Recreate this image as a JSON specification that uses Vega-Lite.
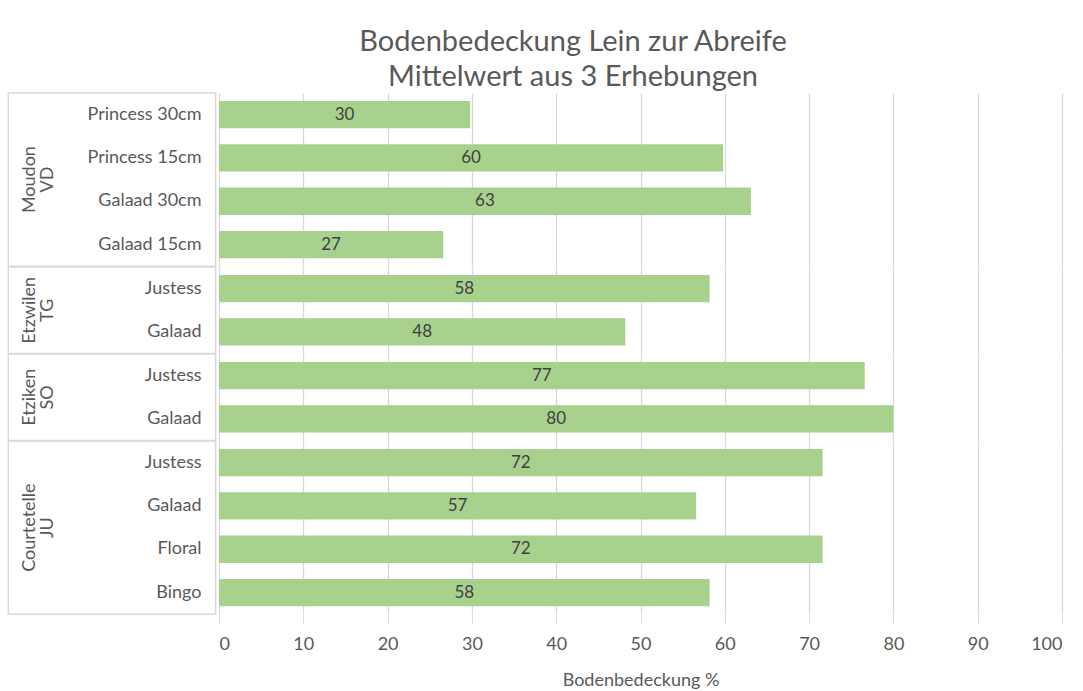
{
  "$schema": "https://vega.github.io/schema/vega-lite/v6.json",
  "padding": {"left": 7, "top": 28, "right": 15, "bottom": 5},
  "background": "white",
  "title": {
    "text": ["Bodenbedeckung  Lein zur Abreife", "Mittelwert aus 3 Erhebungen"],
    "fontSize": 29, "font": "Lato", "fontWeight": "normal", "color": "#595959",
    "lineHeight": 35, "anchor": "middle", "offset": 0, "dx": 38
  },
  "data": {"values": [
    {"loc": "Moudon VD", "sorte": "Princess 30cm", "v": 29.8},
    {"loc": "Moudon VD", "sorte": "Princess 15cm", "v": 59.8},
    {"loc": "Moudon VD", "sorte": "Galaad 30cm", "v": 63.1},
    {"loc": "Moudon VD", "sorte": "Galaad 15cm", "v": 26.6},
    {"loc": "Etzwilen TG", "sorte": "Justess", "v": 58.2},
    {"loc": "Etzwilen TG", "sorte": "Galaad", "v": 48.2},
    {"loc": "Etziken SO", "sorte": "Justess", "v": 76.6},
    {"loc": "Etziken SO", "sorte": "Galaad", "v": 80.0},
    {"loc": "Courtetelle JU", "sorte": "Justess", "v": 71.6},
    {"loc": "Courtetelle JU", "sorte": "Galaad", "v": 56.6},
    {"loc": "Courtetelle JU", "sorte": "Floral", "v": 71.6},
    {"loc": "Courtetelle JU", "sorte": "Bingo", "v": 58.2}
  ]},
  "transform": [{"calculate": "datum.v / 2", "as": "mid"}],
  "facet": {
    "row": {
      "field": "loc", "type": "nominal",
      "sort": ["Moudon VD", "Etzwilen TG", "Etziken SO", "Courtetelle JU"],
      "title": null,
      "header": {
        "labelAngle": -90, "labelOrient": "left",
        "labelExpr": "split(datum.value, ' ')",
        "labelFontSize": 18, "labelColor": "#595959", "labelFont": "Lato",
        "labelPadding": 153, "labelAlign": "center", "labelBaseline": "middle",
        "labelLineHeight": 18
      }
    }
  },
  "spacing": 0,
  "bounds": "flush",
  "resolve": {"scale": {"y": "independent"}},
  "spec": {
    "width": 843,
    "height": {"step": 43.3},
    "layer": [
      {
        "transform": [
          {"window": [{"op": "row_number", "as": "rn"}], "groupby": ["loc"]},
          {"filter": "datum.rn == 1"}
        ],
        "mark": {"type": "rect", "fill": "transparent", "stroke": "#d9d9d9", "strokeWidth": 1.5},
        "encoding": {
          "x": {"datum": -25, "type": "quantitative", "scale": {"domain": [0, 100]}},
          "x2": {"datum": -0.4}
        }
      },
      {
        "mark": {"type": "bar", "color": "#a9d18e"},
        "encoding": {
          "y": {
            "field": "sorte", "type": "nominal",
            "sort": ["Princess 30cm", "Princess 15cm", "Galaad 30cm", "Galaad 15cm", "Justess", "Galaad", "Floral", "Bingo"],
            "scale": {"paddingInner": 0.37, "paddingOuter": 0.185},
            "axis": {"title": null, "ticks": false, "domain": false, "labelFontSize": 18, "labelColor": "#595959", "labelFont": "Lato", "labelPadding": 18}
          },
          "x": {
            "field": "v", "type": "quantitative",
            "scale": {"domain": [0, 100]},
            "axis": {
              "title": "Bodenbedeckung %", "values": [0, 10, 20, 30, 40, 50, 60, 70, 80, 90, 100],
              "grid": true, "gridColor": "#d9d9d9", "gridWidth": 1.3,
              "tickColor": "#d9d9d9", "tickSize": 8, "domain": false,
              "labelFontSize": 18, "labelColor": "#595959", "labelFont": "Lato", "labelPadding": 12,
              "titleFontSize": 18, "titleFontWeight": "normal", "titleColor": "#595959", "titleFont": "Lato", "titlePadding": 18
            }
          }
        }
      },
      {
        "mark": {"type": "text", "fontSize": 17, "color": "#404040", "font": "Lato", "baseline": "middle", "align": "center"},
        "encoding": {
          "y": {
            "field": "sorte", "type": "nominal",
            "sort": ["Princess 30cm", "Princess 15cm", "Galaad 30cm", "Galaad 15cm", "Justess", "Galaad", "Floral", "Bingo"]
          },
          "x": {"field": "mid", "type": "quantitative"},
          "text": {"field": "v", "type": "quantitative", "format": ".0f"}
        }
      }
    ]
  },
  "config": {"view": {"stroke": null}}
}
